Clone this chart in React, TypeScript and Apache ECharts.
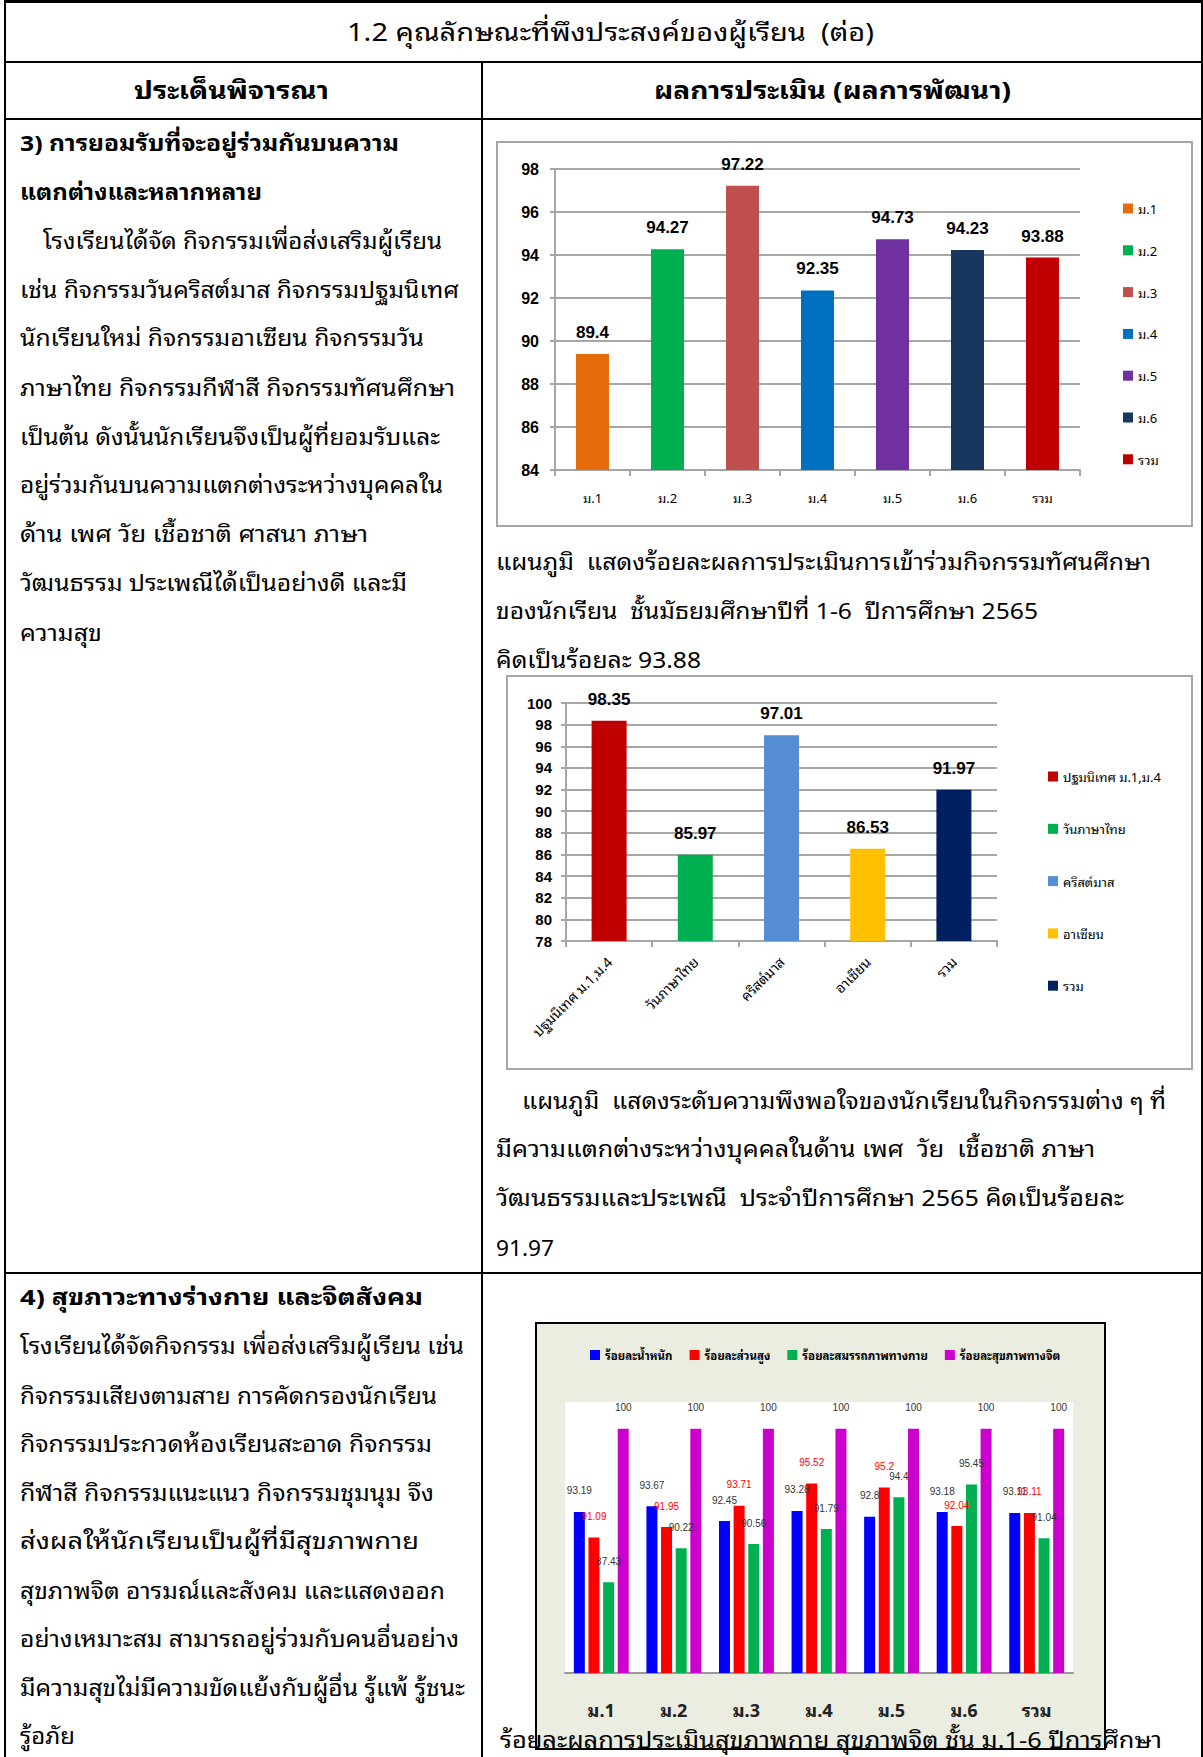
import React, { useEffect, useLayoutEffect, useRef } from 'react';
import * as echarts from 'echarts';

const THAI = '"Noto Sans Thai Looped", "Noto Sans Thai", "Leelawadee UI", Tahoma, "Noto Sans", sans-serif';
const NUM = '"Liberation Sans", Arial, sans-serif';

// ---------- Chart 1 data ----------
const c1Categories = ['ม.1', 'ม.2', 'ม.3', 'ม.4', 'ม.5', 'ม.6', 'รวม'];
const c1Values = [89.4, 94.27, 97.22, 92.35, 94.73, 94.23, 93.88];
const c1Colors = ['#E46C0A', '#00B050', '#C0504D', '#0070C0', '#7030A0', '#17375E', '#C00000'];
const c1Min = 84;
const c1Max = 98;
const c1Interval = 2;

// ---------- Chart 2 data ----------
const c2Categories = ['ปฐมนิเทศ ม.1,ม.4', 'วันภาษาไทย', 'คริสต์มาส', 'อาเซียน', 'รวม'];
const c2Values = [98.35, 85.97, 97.01, 86.53, 91.97];
const c2Colors = ['#C00000', '#00B050', '#558ED5', '#FFC000', '#002060'];
const c2Min = 78;
const c2Max = 100;
const c2Interval = 2;

// ---------- Chart 3 data ----------
const c3Categories = ['ม.1', 'ม.2', 'ม.3', 'ม.4', 'ม.5', 'ม.6', 'รวม'];
const c3SeriesNames = ['ร้อยละน้ำหนัก', 'ร้อยละส่วนสูง', 'ร้อยละสมรรถภาพทางกาย', 'ร้อยละสุขภาพทางจิต'];
const c3Weight = [93.19, 93.67, 92.45, 93.28, 92.8, 93.18, 93.11];
const c3Height = [91.09, 91.95, 93.71, 95.52, 95.2, 92.04, 93.11];
const c3Fitness = [87.43, 90.22, 90.56, 91.79, 94.4, 95.45, 91.04];
const c3Mental = [100, 100, 100, 100, 100, 100, 100];
const c3Colors = ['#0000FF', '#FF0000', '#00B050', '#CC00CC'];
const c3LabelColors = ['#333333', '#FF0000', '#333333', '#333333'];
const c3Min = 80;
const c3Max = 102.2;

// ---------- Text ----------
const titleText = '1.2 คุณลักษณะที่พึงประสงค์ของผู้เรียน  (ต่อ)';
const headLeft = 'ประเด็นพิจารณา';
const headRight = 'ผลการประเมิน (ผลการพัฒนา)';

type Line = { t: string; x: number; y: number; w: number; b?: boolean; s?: number };

const leftLines3: Line[] = [
  { t: '3) การยอมรับที่จะอยู่ร่วมกันบนความ', x: 20, y: 143, w: 379, b: true },
  { t: 'แตกต่างและหลากหลาย', x: 20, y: 192, w: 242, b: true },
  { t: 'โรงเรียนได้จัด กิจกรรมเพื่อส่งเสริมผู้เรียน', x: 43, y: 241, w: 399 },
  { t: 'เช่น กิจกรรมวันคริสต์มาส กิจกรรมปฐมนิเทศ', x: 20, y: 290, w: 439 },
  { t: 'นักเรียนใหม่ กิจกรรมอาเซียน กิจกรรมวัน', x: 20, y: 338, w: 404 },
  { t: 'ภาษาไทย กิจกรรมกีฬาสี กิจกรรมทัศนศึกษา', x: 20, y: 388, w: 435 },
  { t: 'เป็นต้น ดังนั้นนักเรียนจึงเป็นผู้ที่ยอมรับและ', x: 20, y: 437, w: 420 },
  { t: 'อยู่ร่วมกันบนความแตกต่างระหว่างบุคคลใน', x: 20, y: 485, w: 423 },
  { t: 'ด้าน เพศ วัย เชื้อชาติ ศาสนา ภาษา', x: 20, y: 534, w: 348 },
  { t: 'วัฒนธรรม ประเพณีได้เป็นอย่างดี และมี', x: 20, y: 583, w: 387 },
  { t: 'ความสุข', x: 20, y: 633, w: 82 },
];

const leftLines4: Line[] = [
  { t: '4) สุขภาวะทางร่างกาย และจิตสังคม', x: 20, y: 1297, w: 403, b: true },
  { t: 'โรงเรียนได้จัดกิจกรรม เพื่อส่งเสริมผู้เรียน เช่น', x: 20, y: 1346, w: 444 },
  { t: 'กิจกรรมเสียงตามสาย การคัดกรองนักเรียน', x: 20, y: 1396, w: 417 },
  { t: 'กิจกรรมประกวดห้องเรียนสะอาด กิจกรรม', x: 20, y: 1444, w: 412 },
  { t: 'กีฬาสี กิจกรรมแนะแนว กิจกรรมชุมนุม จึง', x: 20, y: 1493, w: 414 },
  { t: 'ส่งผลให้นักเรียนเป็นผู้ที่มีสุขภาพกาย', x: 20, y: 1541, w: 399 },
  { t: 'สุขภาพจิต อารมณ์และสังคม และแสดงออก', x: 20, y: 1591, w: 425 },
  { t: 'อย่างเหมาะสม สามารถอยู่ร่วมกับคนอื่นอย่าง', x: 20, y: 1639, w: 439 },
  { t: 'มีความสุขไม่มีความขัดแย้งกับผู้อื่น รู้แพ้ รู้ชนะ', x: 20, y: 1688, w: 445 },
  { t: 'รู้อภัย', x: 20, y: 1736, w: 55 },
];

const rightLines: Line[] = [
  { t: 'แผนภูมิ  แสดงร้อยละผลการประเมินการเข้าร่วมกิจกรรมทัศนศึกษา', x: 496, y: 562, w: 655 },
  { t: 'ของนักเรียน  ชั้นมัธยมศึกษาปีที่ 1-6  ปีการศึกษา 2565', x: 496, y: 611, w: 542 },
  { t: 'คิดเป็นร้อยละ 93.88', x: 496, y: 660, w: 205 },
  { t: 'แผนภูมิ  แสดงระดับความพึงพอใจของนักเรียนในกิจกรรมต่าง ๆ ที่', x: 522, y: 1101, w: 644 },
  { t: 'มีความแตกต่างระหว่างบุคคลในด้าน เพศ  วัย  เชื้อชาติ ภาษา', x: 496, y: 1149, w: 599 },
  { t: 'วัฒนธรรมและประเพณี  ประจำปีการศึกษา 2565 คิดเป็นร้อยละ', x: 496, y: 1198, w: 628 },
  { t: '91.97', x: 496, y: 1248, w: 58 },
  { t: 'ร้อยละผลการประเมินสุขภาพกาย สุขภาพจิต ชั้น ม.1-6 ปีการศึกษา', x: 500, y: 1740, w: 662 },
];

function FitLine({ t, x, y, w, b, s }: Line) {
  const ref = useRef<HTMLSpanElement>(null);
  const size = s || 22;
  useLayoutEffect(() => {
    const el = ref.current;
    if (!el) return;
    el.style.transform = 'none';
    const nat = el.getBoundingClientRect().width;
    if (nat > 0) {
      let k = w / nat;
      k = Math.max(0.6, Math.min(1.6, k));
      el.style.transform = `scaleX(${k})`;
    }
  }, [t, w]);
  return (
    <span
      ref={ref}
      style={{
        position: 'absolute',
        left: x,
        top: y - size * 0.62 + 1,
        fontSize: size,
        lineHeight: `${size}px`,
        fontFamily: THAI,
        fontWeight: b ? 700 : 400,
        whiteSpace: 'pre',
        color: '#000',
        transformOrigin: '0 0',
        zIndex: 5,
      }}
    >
      {t}
    </span>
  );
}

function Chart({ option, style }: { option: any; style: React.CSSProperties }) {
  const ref = useRef<HTMLDivElement>(null);
  useEffect(() => {
    if (!ref.current) return;
    const chart = echarts.init(ref.current, undefined, { renderer: 'svg' });
    chart.setOption(option);
    return () => chart.dispose();
  }, [option]);
  return <div ref={ref} style={{ position: 'absolute', boxSizing: 'border-box', ...style }} />;
}

const grayAxis = '#A6A6A6';

const option1 = {
  animation: false,
  textStyle: { fontFamily: THAI },
  grid: { left: 57, right: 111, top: 26, bottom: 55 },
  legend: {
    orient: 'vertical',
    left: 620,
    top: 54,
    itemWidth: 10,
    itemHeight: 10,
    itemGap: 28.8,
    icon: 'rect',
    data: c1Categories,
    textStyle: { fontSize: 13, color: '#000', fontFamily: THAI },
  },
  xAxis: {
    type: 'category',
    data: c1Categories,
    axisLine: { lineStyle: { color: grayAxis, width: 2 } },
    axisTick: { show: true, length: 6, lineStyle: { color: grayAxis, width: 2 } },
    axisLabel: { fontSize: 13, color: '#000', margin: 21, fontFamily: THAI },
  },
  yAxis: {
    type: 'value',
    min: c1Min,
    max: c1Max,
    interval: c1Interval,
    axisLine: { show: true, lineStyle: { color: grayAxis, width: 2 } },
    axisTick: { show: true, length: 5, lineStyle: { color: grayAxis, width: 2 } },
    splitLine: { lineStyle: { color: grayAxis, width: 2 } },
    axisLabel: { fontSize: 16, fontWeight: 'bold', color: '#000', margin: 16, fontFamily: NUM },
  },
  series: c1Categories.map((name, i) => ({
    name,
    type: 'bar',
    stack: 'one',
    barWidth: 33,
    itemStyle: { color: c1Colors[i] },
    data: c1Values.map((v, j) => (j === i ? v : '-')),
    label: { show: true, position: 'top', distance: 13, fontSize: 17, fontWeight: 'bold', color: '#000', fontFamily: NUM },
  })),
};

const option2 = {
  animation: false,
  textStyle: { fontFamily: THAI },
  grid: { left: 58, right: 194, top: 26, bottom: 127 },
  legend: {
    orient: 'vertical',
    left: 535,
    top: 88,
    itemWidth: 10,
    itemHeight: 10,
    itemGap: 39.3,
    icon: 'rect',
    data: c2Categories,
    textStyle: { fontSize: 13, color: '#000', fontFamily: THAI },
  },
  xAxis: {
    type: 'category',
    data: c2Categories,
    axisLine: { lineStyle: { color: grayAxis, width: 2 } },
    axisTick: { show: true, length: 6, lineStyle: { color: grayAxis, width: 2 } },
    axisLabel: { fontSize: 14, color: '#000', margin: 18, rotate: 45, interval: 0, fontFamily: THAI },
  },
  yAxis: {
    type: 'value',
    min: c2Min,
    max: c2Max,
    interval: c2Interval,
    axisLine: { show: true, lineStyle: { color: grayAxis, width: 2 } },
    axisTick: { show: true, length: 5, lineStyle: { color: grayAxis, width: 2 } },
    splitLine: { lineStyle: { color: grayAxis, width: 2 } },
    axisLabel: { fontSize: 15, fontWeight: 'bold', color: '#000', margin: 14, fontFamily: NUM },
  },
  series: c2Categories.map((name, i) => ({
    name,
    type: 'bar',
    stack: 'one',
    barWidth: 35,
    itemStyle: { color: c2Colors[i] },
    data: c2Values.map((v, j) => (j === i ? v : '-')),
    label: { show: true, position: 'top', distance: 13, fontSize: 17, fontWeight: 'bold', color: '#000', fontFamily: NUM },
  })),
};

const c3Data = [c3Weight, c3Height, c3Fitness, c3Mental];

const option3 = {
  animation: false,
  backgroundColor: '#EBEDE0',
  textStyle: { fontFamily: THAI },
  grid: { left: 28, right: 31, top: 78, bottom: 75, show: true, backgroundColor: '#FFFFFF', borderWidth: 0 },
  legend: {
    left: 48,
    top: 20,
    itemWidth: 10,
    itemHeight: 10,
    itemGap: 17,
    icon: 'rect',
    data: c3SeriesNames,
    textStyle: { fontSize: 11.5, fontWeight: 'bold', color: '#000', fontFamily: THAI },
  },
  xAxis: {
    type: 'category',
    data: c3Categories,
    axisLine: { lineStyle: { color: '#999999', width: 2 } },
    axisTick: { show: false },
    axisLabel: { fontSize: 18, fontWeight: 'bold', color: '#222', margin: 27, fontFamily: THAI },
  },
  yAxis: {
    type: 'value',
    min: c3Min,
    max: c3Max,
    show: false,
    splitLine: { show: false },
  },
  series: c3SeriesNames.map((name, i) => ({
    name,
    type: 'bar',
    barWidth: 11,
    barGap: '33%',
    itemStyle: { color: c3Colors[i] },
    data: c3Data[i],
    label: { show: true, position: 'top', distance: 16, fontSize: 10, color: c3LabelColors[i], fontFamily: NUM },
  })),
};

function HLine({ y, x1, x2, h = 2 }: { y: number; x1: number; x2: number; h?: number }) {
  return <div style={{ position: 'absolute', left: x1, top: y, width: x2 - x1, height: h, background: '#000', zIndex: 6 }} />;
}
function VLine({ x, y1, y2, w = 2 }: { x: number; y1: number; y2: number; w?: number }) {
  return <div style={{ position: 'absolute', left: x, top: y1, width: w, height: y2 - y1, background: '#000', zIndex: 6 }} />;
}

export default function App() {
  return (
    <div
      style={{
        position: 'absolute',
        left: 0,
        top: 0,
        width: 1203,
        height: 1757,
        overflow: 'hidden',
        background: '#fff',
        fontFamily: THAI,
      }}
    >
      {/* table lines */}
      <HLine y={0} x1={4} x2={1203} h={3} />
      <HLine y={61} x1={4} x2={1203} />
      <HLine y={118} x1={4} x2={1203} />
      <HLine y={1272} x1={4} x2={1203} />
      <VLine x={4} y1={0} y2={1757} />
      <VLine x={1201} y1={0} y2={1757} />
      <VLine x={481} y1={61} y2={1757} />

      {/* headings */}
      <FitLine t={titleText} x={347} y={32} w={527} s={25} />
      <FitLine t={headLeft} x={134} y={90} w={195} s={24} b />
      <FitLine t={headRight} x={654} y={90} w={357} s={24} b />

      {leftLines3.map((l, i) => (
        <FitLine key={'a' + i} {...l} />
      ))}
      {leftLines4.map((l, i) => (
        <FitLine key={'b' + i} {...l} />
      ))}
      {rightLines.map((l, i) => (
        <FitLine key={'c' + i} {...l} />
      ))}

      <Chart option={option1} style={{ left: 496, top: 141, width: 697, height: 386, border: '2px solid #A6A6A6' }} />
      <Chart option={option2} style={{ left: 506, top: 675, width: 687, height: 395, border: '2px solid #A6A6A6' }} />
      <Chart option={option3} style={{ left: 535, top: 1322, width: 571, height: 428, border: '2px solid #000' }} />
    </div>
  );
}
